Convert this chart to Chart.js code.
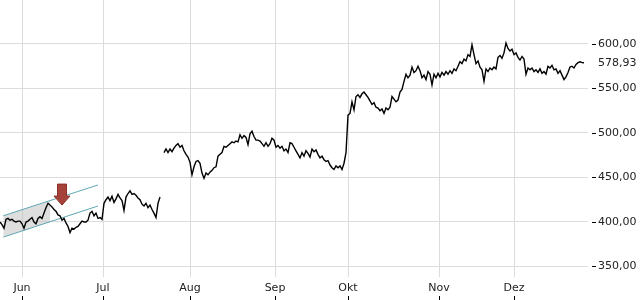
<!DOCTYPE html>
<html>
<head>
<meta charset="utf-8">
<script src="https://cdn.jsdelivr.net/npm/chart.js@4/dist/chart.umd.min.js"></script>
<style>
  html, body { margin: 0; padding: 0; background: #fff; }
  #chart { display: block; }
</style>
</head>
<body>
<canvas id="chart" width="640" height="300"></canvas>
<script>
// closing prices, one per sample (null = no trading data)
const closes = [
  400, 397, 393, 403, 404, 402, 403, 401, 400, 401,
  401, 398, 393, 400, 401, 403, 405, 400, 398, 404,
  406, 404, 410, 416, 421, 419, 417, 414, 412, 408,
  407, 402, 404, 399, 395, 388, 393, 392, 394, 395,
  398, 401, 400, 400, 402, 410, 412, 407, 410, 404,
  405, 403, 421, 425, 428, 424, 429, 422, 426, 431,
  427, 424, 413, 428, 432, 435, 431, 432, 430, 427,
  425, 420, 418, 421, 416, 419, 414, 410, 405, 421,
  428, null,
  478, 482, 478, 482, 479, 483, 486, 488, 484, 486,
  480, 476, 473, 467, 453, 462, 468, 469, 466, 455,
  449, 455, 453, 456, 458, 461, 462, 474, 476, 478,
  485, 484, 486, 488, 490, 489, 491, 490, 498, 494,
  497, 495, 487, 499, 502, 496, 492, 492, 491, 488,
  485, 489, 485, 488, 494, 492, 484, 486, 483, 485,
  480, 482, 478, 489, 488, 484, 480, 476, 472, 478,
  474, 480, 477, 473, 482, 479, 481, 476, 472, 474,
  470, 468, 469, 464, 461, 459, 463, 461, 463, 459,
  466, 478, 520, 522, 535, 526, 541, 543, 540, 544,
  546, 543, 540, 536, 532, 534, 529, 528, 525, 527,
  522, 528, 526, 529, 541, 538, 535, 537, 546, 549,
  558, 566, 562, 565, 574, 568, 570, 575, 570, 562,
  565, 560, 569, 566, 554, 566, 562, 567, 563, 568,
  565, 569, 566, 570, 567, 572, 570, 575, 580, 578,
  583, 581, 588, 586, 599, 588, 578, 581, 574, 571,
  558, 572, 569, 573, 571, 574, 572, 585, 587, 584,
  590, 601, 595, 592, 594, 588, 590, 585, 582, 586,
  583, 566, 573, 571, 573, 569, 571, 568, 572, 567,
  569, 566, 575, 573, 576, 571, 572, 567, 570, 565,
  560, 563, 568, 574, 575, 573, 577, 579, 580, 579,
  578.93
];

const monthTicks = [11, 51.5, 95, 137.5, 174, 219.5, 257];
const monthLabels = ['Jun', 'Jul', 'Aug', 'Sep', 'Okt', 'Nov', 'Dez'];
const priceTicks = [350, 400, 450, 500, 550, 600];

// trend channel (sample index, price)
const channelX = [1.65, 49];
const channelTop = [407, 441.6];
const channelBottom = [383, 418];
const channelFillX = [1.65, 25];
const channelFillTop = [407, 424];
const channelFillBottom = [383, 400];

// sell signal arrow tip
const signalX = 31;
const signalPrice = 419;

const fmt = v => v.toFixed(2).replace('.', ',');
const FONT = { family: '"DejaVu Sans", sans-serif', size: 11 };
const TEAL = '#5ea6b0';
const GRID = '#dcdcdc';

const pts = (xs, ys) => xs.map((x, i) => ({ x, y: ys[i] }));
const noPad = s => { s.paddingTop = 0; s.paddingBottom = 0; s.paddingLeft = 0; s.paddingRight = 0; };

const extras = {
  id: 'extras',
  afterDatasetsDraw(chart) {
    const { ctx, chartArea, scales: { x, y } } = chart;
    ctx.save();

    // sell arrow
    const tx = x.getPixelForValue(signalX);
    const ty = y.getPixelForValue(signalPrice);
    ctx.fillStyle = '#a5433a';
    ctx.strokeStyle = '#8a3028';
    ctx.lineWidth = 1;
    ctx.beginPath();
    ctx.moveTo(tx - 4.5, ty - 21);
    ctx.lineTo(tx + 4.5, ty - 21);
    ctx.lineTo(tx + 4.5, ty - 9);
    ctx.lineTo(tx + 8, ty - 9);
    ctx.lineTo(tx, ty);
    ctx.lineTo(tx - 8, ty - 9);
    ctx.lineTo(tx - 4.5, ty - 9);
    ctx.closePath();
    ctx.fill();
    ctx.stroke();

    // y tick dashes
    ctx.strokeStyle = '#000';
    ctx.beginPath();
    priceTicks.forEach(v => {
      const py = Math.round(y.getPixelForValue(v)) + 0.5;
      ctx.moveTo(chartArea.right + 4, py);
      ctx.lineTo(chartArea.right + 8, py);
    });
    // x tick marks below labels
    monthTicks.forEach(v => {
      const px = Math.round(x.getPixelForValue(v)) + 0.5;
      ctx.moveTo(px, 296);
      ctx.lineTo(px, 300);
    });
    ctx.stroke();

    // last price label
    const last = closes[closes.length - 1];
    ctx.fillStyle = '#222';
    ctx.font = `${FONT.size}px ${FONT.family}`;
    ctx.textBaseline = 'middle';
    ctx.textAlign = 'left';
    ctx.fillText(fmt(last), chartArea.right + 10, y.getPixelForValue(last));
    ctx.restore();
  }
};

new Chart(document.getElementById('chart'), {
  type: 'line',
  data: {
    datasets: [
      {
        data: closes.map((v, i) => ({ x: i, y: v })),
        borderColor: '#000',
        borderWidth: 1.4,
        pointRadius: 0,
        spanGaps: false,
        order: 0
      },
      {
        data: pts(channelX, channelTop),
        borderColor: TEAL,
        borderWidth: 1,
        pointRadius: 0,
        order: 1
      },
      {
        data: pts(channelX, channelBottom),
        borderColor: TEAL,
        borderWidth: 1,
        pointRadius: 0,
        order: 1
      },
      {
        data: pts(channelFillX, channelFillBottom),
        borderWidth: 0,
        pointRadius: 0,
        order: 3
      },
      {
        data: pts(channelFillX, channelFillTop),
        borderWidth: 0,
        pointRadius: 0,
        fill: '-1',
        backgroundColor: 'rgba(190,190,190,0.5)',
        order: 2
      }
    ]
  },
  options: {
    responsive: false,
    animation: false,
    layout: { padding: 0 },
    plugins: { legend: { display: false }, tooltip: { enabled: false } },
    scales: {
      x: {
        type: 'linear',
        min: 0,
        max: 294,
        afterBuildTicks: s => { s.ticks = monthTicks.map(v => ({ value: v })); },
        afterFit: s => { s.height = 23; noPad(s); },
        ticks: {
          callback: (v, i) => monthLabels[i],
          font: FONT,
          color: '#222',
          padding: 5,
          maxRotation: 0,
          autoSkip: false
        },
        grid: { color: GRID, drawTicks: false },
        border: { display: false }
      },
      y: {
        position: 'right',
        min: 338.2,
        max: 649.4,
        afterBuildTicks: s => { s.ticks = priceTicks.map(v => ({ value: v })); },
        afterFit: s => { s.width = 52; noPad(s); },
        ticks: {
          callback: v => fmt(v),
          font: FONT,
          color: '#222',
          padding: 10
        },
        grid: { color: GRID, drawTicks: false },
        border: { display: false }
      }
    }
  },
  plugins: [extras]
});
</script>
</body>
</html>
